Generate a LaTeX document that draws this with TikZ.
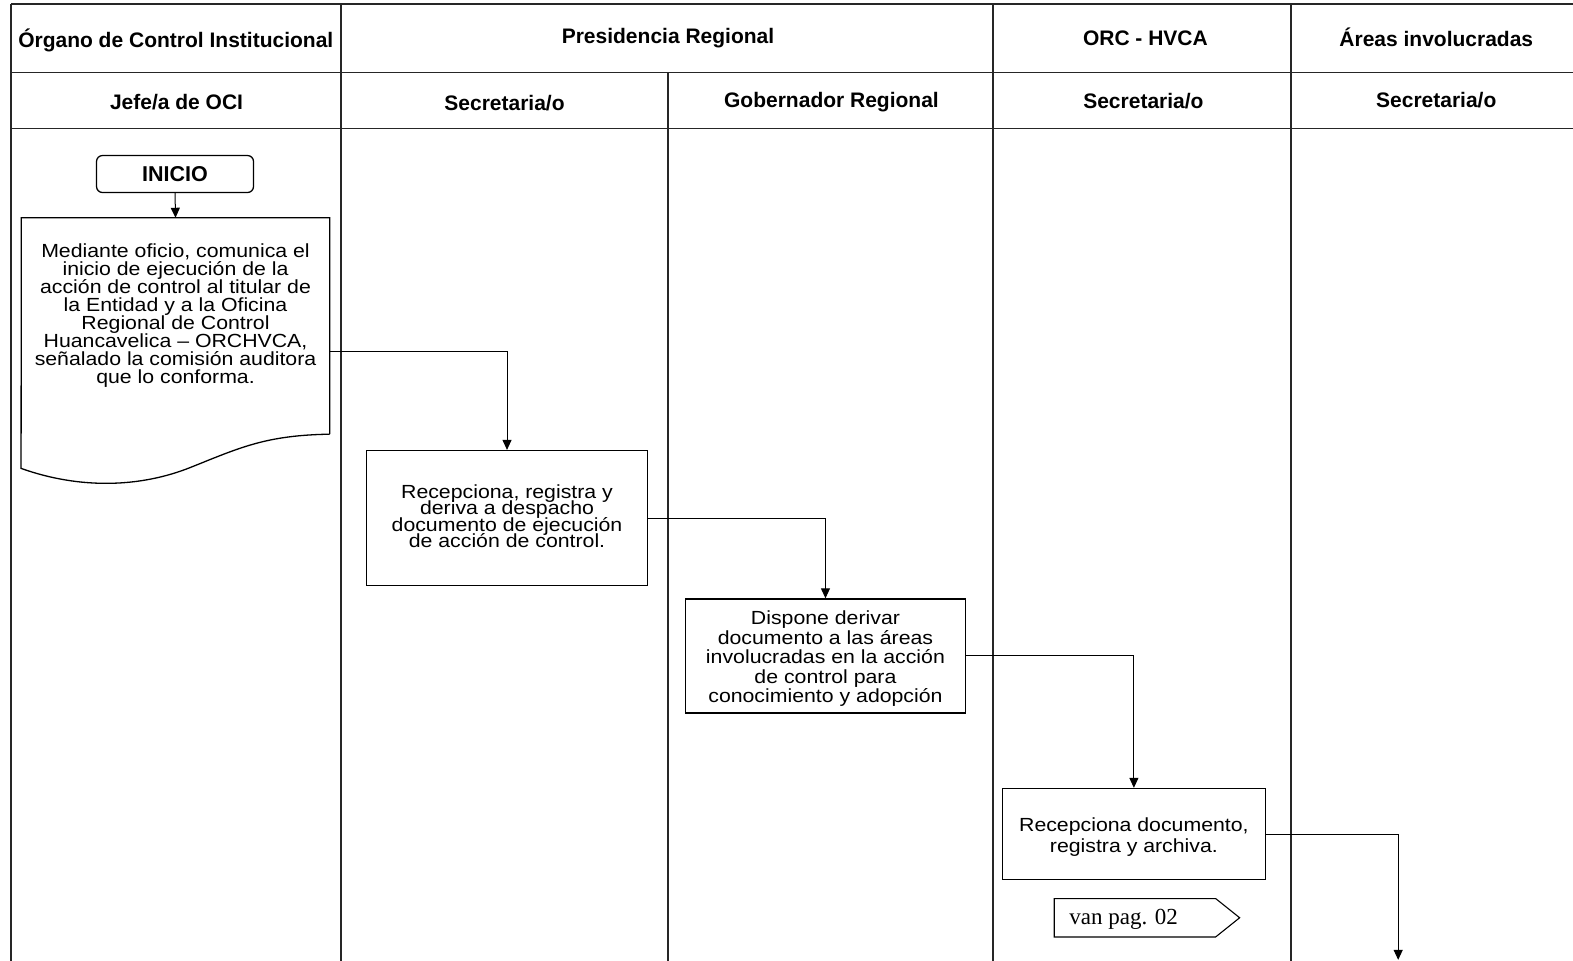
\documentclass[tikz,border=0pt]{standalone}
\usepackage{fontspec}
\setmainfont{Liberation Sans}
\newfontfamily\bodyfont[FakeStretch=1.12]{Liberation Sans}
\newfontfamily\vanfont{Liberation Serif}
\newcommand\tightlines{\lineskiplimit=-20pt\relax}
\usetikzlibrary{arrows.meta,calc}
\begin{document}
\begin{tikzpicture}[x=1.003pt,y=-1.003pt,
  grid/.style={line width=1.4pt,black!85},
  head/.style={font=\fontsize{21}{23}\selectfont\bfseries,inner sep=0pt},
  stepbox/.style={draw,line width=1.3pt,inner sep=0pt},
  boxtext/.style={align=center,inner sep=0pt},
  conn/.style={line width=1pt,-{Triangle[length=10pt,width=9pt]}},
]
\useasboundingbox (0,0) rectangle (1568.3,958);

% swimlane grid
\draw[grid] (11,4) -- (1568.3,4);
\draw[grid] (11,72) -- (1568.3,72);
\draw[grid] (11,128) -- (1568.3,128);
\draw[grid] (11,4) -- (11,958);
\draw[grid] (340,4) -- (340,958);
\draw[grid] (666,72) -- (666,958);
\draw[grid] (990,4) -- (990,958);
\draw[grid] (1287,4) -- (1287,958);

% lane titles
\node[head,anchor=west] (h1) at (18,40) {Órgano de Control Institucional};
\node[head] (h2) at (666,38.5) {Presidencia Regional};
\node[head] (h3) at (1142,38.5) {ORC - HVCA};
\node[head] (h4) at (1432,37.5) {Áreas involucradas};
\node[head] (s1) at (176,101.5) {Jefe/a de OCI};
\node[head] (s2) at (503,102.5) {Secretaria/o};
\node[head] (s3) at (829,101.5) {Gobernador Regional};
\node[head] (s4) at (1140,100.5) {Secretaria/o};
\node[head] (s5) at (1432,99.5) {Secretaria/o};

% start terminal
\node[draw,line width=1.3pt,rounded corners=6pt,minimum width=157pt,minimum height=37pt,
      font=\fontsize{21.5}{23}\selectfont\bfseries] (inicio) at (174.5,173.5) {INICIO};

% document shape (wavy bottom)
\node[inner sep=0pt,minimum width=308pt,minimum height=216pt] (doc) at (175,325) {};
\draw[line width=1.3pt] (doc.south east) -- (doc.north east) -- (doc.north west) -- (21,467)
  .. controls (80,488) and (140,486) .. (190,466)
  .. controls (240,446) and (265,434) .. (doc.south east);
\node[boxtext,font=\bodyfont\fontsize{19}{18}\selectfont\tightlines] (doctext) at (175,315)
  {Mediante oficio, comunica el\\inicio de ejecución de la\\acción de control al titular de\\la Entidad y a la Oficina\\Regional de Control\\Huancavelica – ORCHVCA,\\señalado la comisión auditora\\que lo conforma.};

% process boxes
\node[stepbox,minimum width=281pt,minimum height=135pt] (box2) at (505.5,516.5) {};
\node[boxtext,font=\bodyfont\fontsize{19}{16.5}\selectfont\tightlines] (box2text)
  at ([yshift=2pt]box2.center)
  {Recepciona, registra y\\deriva a despacho\\documento de ejecución\\de acción de control.};
\node[stepbox,minimum width=280pt,minimum height=114pt] (box3) at (823,654) {};
\node[boxtext,font=\bodyfont\fontsize{19}{19.5}\selectfont\tightlines] (box3text)
  at ([yshift=-3pt]box3.center)
  {Dispone derivar\\documento a las áreas\\involucradas en la acción\\de control para\\conocimiento y adopción};
\node[stepbox,minimum width=263pt,minimum height=91pt] (box4) at (1130.5,831.5) {};
\node[boxtext,font=\bodyfont\fontsize{19}{21}\selectfont\tightlines] (box4text)
  at ([yshift=-3pt]box4.center)
  {Recepciona documento,\\registra y archiva.};

% off-page connector
\node[inner sep=0pt,minimum width=185pt,minimum height=38pt] (van) at (1143.5,915) {};
\draw[line width=1.1pt] (van.north west) -- ([xshift=-24pt]van.north east) -- (van.east)
  -- ([xshift=-24pt]van.south east) -- (van.south west) -- cycle;
\node[anchor=west,inner sep=0pt,font=\vanfont\fontsize{23}{24}\selectfont] (vantext) at (1066,916.5) {van pag. 02};

\coordinate (endpt) at (1394,957);

% connectors
\draw[conn] (inicio.south) -- (doc.north);
\draw[conn] ([yshift=-134pt]doc.north east) -| (box2.north);
\draw[conn] (box2.east) -| (box3.north);
\draw[conn] (box3.east) -| (box4.north);
\draw[conn] (box4.east) -| (endpt);
\end{tikzpicture}
\end{document}
